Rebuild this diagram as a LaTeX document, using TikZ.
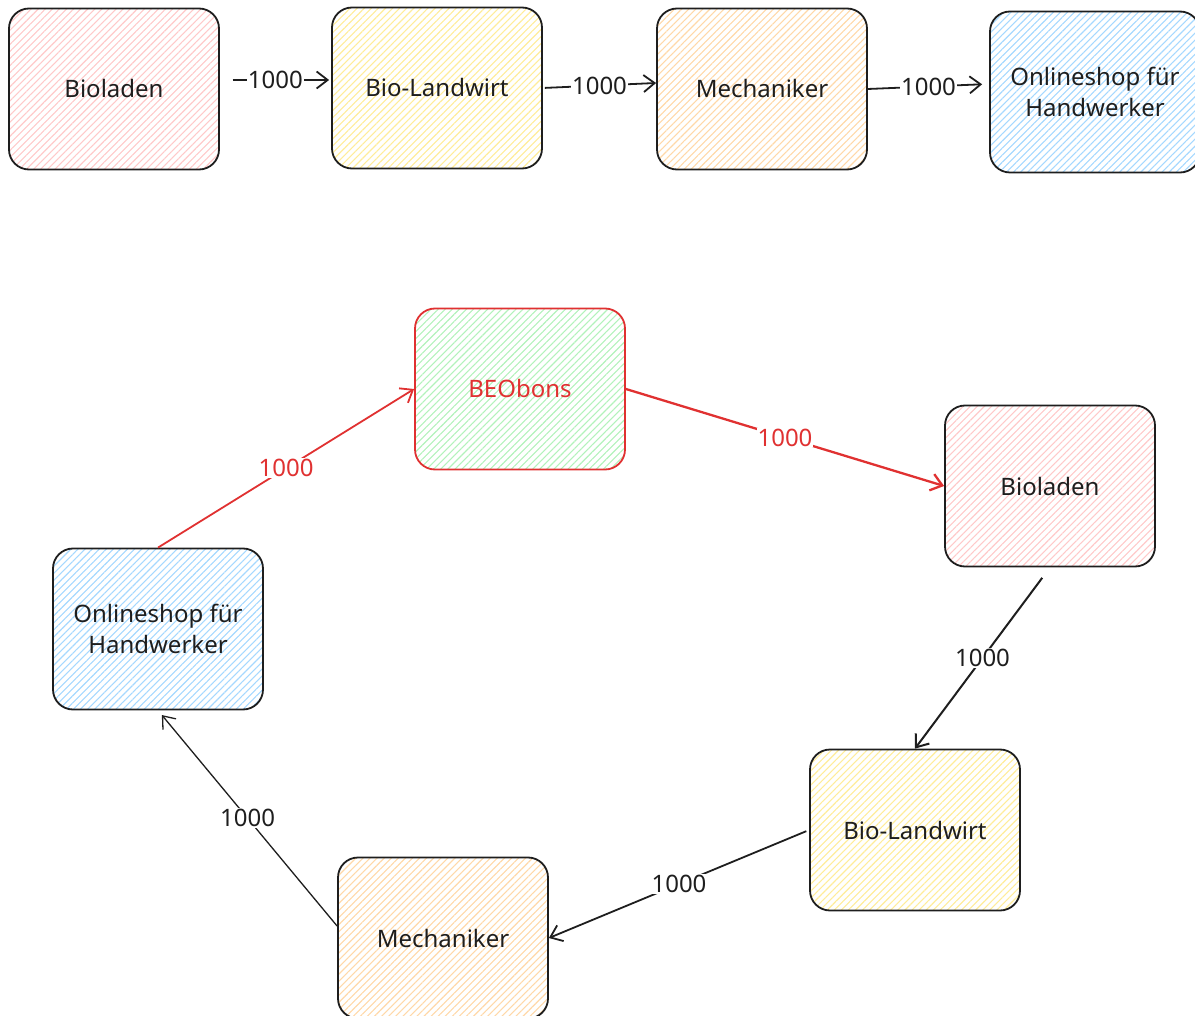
\documentclass[tikz,border=0pt]{standalone}
\usepackage{fontspec}
\setmainfont{Noto Sans}
\usetikzlibrary{arrows.meta,patterns.meta}

\definecolor{ink}{HTML}{1E1E1E}
\definecolor{redink}{HTML}{E03131}
\definecolor{pinkhatch}{HTML}{FFC9C9}
\definecolor{yellowhatch}{HTML}{FFEC99}
\definecolor{orangehatch}{HTML}{FFD8A8}
\definecolor{bluehatch}{HTML}{A5D8FF}
\definecolor{greenhatch}{HTML}{B2F2BB}

\begin{document}
\begin{tikzpicture}[x=1pt,y=-1pt]
	\tikzstyle{shop}=[draw=ink, line width=1.8pt, rounded corners=20pt,
		minimum width=210pt, minimum height=161pt, align=center, text=ink,
		font=\fontsize{24}{31}\selectfont,
		pattern={Lines[angle=45,distance=5pt,line width=1.1pt]}]
	\tikzstyle{flow}=[draw=ink, line width=1.8pt, -{Straight Barb[length=11pt,width=17pt]}]
	\tikzstyle{amount}=[fill=white, inner sep=1pt, text=ink, font=\fontsize{24}{29}\selectfont]
	\useasboundingbox (0,0) rectangle (1195,1016);

	% top row
	\node[shop, pattern color=pinkhatch] (bio1) at (114,89) {Bioladen};
	\node[shop, pattern color=yellowhatch] (land1) at (437,88) {Bio-Landwirt};
	\node[shop, pattern color=orangehatch] (mech1) at (762,89) {Mechaniker};
	\node[shop, pattern color=bluehatch] (online1) at (1095,92) {Onlineshop für\\Handwerker};

	\draw[flow, shorten <=13pt, shorten >=2pt] ([yshift=9pt]bio1.east) -- node[amount] {1000} ([yshift=8pt]land1.west);
	\draw[flow, shorten <=2pt] (land1.east) -- node[amount] {1000} ([yshift=6pt]mech1.west);
	\draw[flow, shorten >=7pt] (mech1.east) -- node[amount] {1000} ([yshift=8pt]online1.west);

	% cycle
	\node[shop, draw=redink, text=redink, pattern color=greenhatch] (beo) at (520,389) {BEObons};
	\node[shop, pattern color=pinkhatch] (bio2) at (1050,486) {Bioladen};
	\node[shop, pattern color=yellowhatch] (land2) at (915,830) {Bio-Landwirt};
	\node[shop, pattern color=orangehatch] (mech2) at (443,938) {Mechaniker};
	\node[shop, pattern color=bluehatch] (online2) at (158,629) {Onlineshop für\\Handwerker};

	\draw[flow, draw=redink, line width=2.3pt] (beo.east) -- node[amount, text=redink] {1000} (bio2.west);
	\draw[flow, line width=2pt, shorten <=13pt] (bio2.south) -- node[amount] {1000} (land2.north);
	\draw[flow, shorten <=3pt] (land2.west) -- node[amount] {1000} (mech2.east);
	\draw[flow, line width=1.3pt, shorten >=6pt] ([yshift=12pt]mech2.west) -- node[amount] {1000} (online2.south);
	\draw[flow, draw=redink, line width=1.8pt] (online2.north) -- node[amount, text=redink] {1000} (beo.west);
\end{tikzpicture}
\end{document}
